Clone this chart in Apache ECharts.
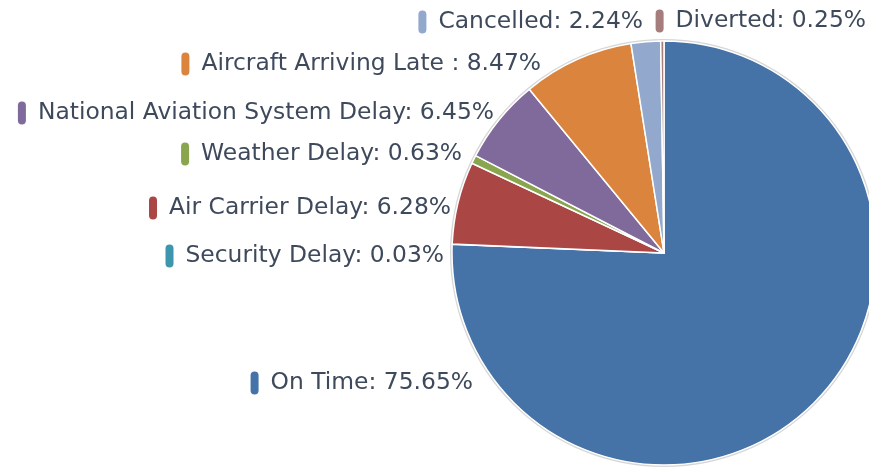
<!DOCTYPE html>
<html>
<head>
<meta charset="utf-8">
<script src="https://cdn.jsdelivr.net/npm/echarts@6/dist/echarts.min.js"></script>
<style>
  html, body { margin: 0; padding: 0; background: #ffffff; }
  #chart { width: 869px; height: 471px; }
</style>
</head>
<body>
<div id="chart"></div>
<script>
// Flight outcome shares (percent of all flights)
const categories = [
  'On Time',
  'Security Delay',
  'Air Carrier Delay',
  'Weather Delay',
  'National Aviation System Delay',
  'Aircraft Arriving Late ',
  'Cancelled',
  'Diverted'
];
const shares = [75.65, 0.03, 6.28, 0.63, 6.45, 8.47, 2.24, 0.25];
const colors = ['#4572A7', '#3D96AE', '#AA4643', '#89A54E', '#80699B', '#DB843D', '#92A8CD', '#A47D7C'];

// Where each label sits: right edge x, vertical middle y
const labelAnchors = [
  [473, 383], [444, 256], [451, 208], [462, 154],
  [494, 113], [541, 64], [643, 22], [866, 21]
];

const FONT = '"DejaVu Sans", Verdana, sans-serif';
const TEXT_COLOR = '#3e4a5c';
const CENTER = [664, 253];

const rich = { t: { fontFamily: FONT, fontSize: 23.4, color: TEXT_COLOR }, g: { width: 12 } };
colors.forEach((c, i) => {
  rich['m' + i] = { backgroundColor: c, width: 8, height: 23, borderRadius: 4 };
});

const chart = echarts.init(document.getElementById('chart'), null, { renderer: 'canvas' });

chart.setOption({
  animation: false,
  backgroundColor: '#ffffff',
  series: [
    {
      // thin grey rim around the pie
      type: 'pie',
      silent: true,
      center: CENTER,
      radius: 214,
      z: 1,
      label: { show: false },
      labelLine: { show: false },
      data: [{ value: 1, itemStyle: { color: '#d6d6d6' } }]
    },
    {
      type: 'pie',
      center: CENTER,
      radius: 212,
      startAngle: 90,
      clockwise: true,
      z: 2,
      avoidLabelOverlap: false,
      itemStyle: { borderColor: '#ffffff', borderWidth: 1.5 },
      labelLine: { show: false },
      label: {
        show: true,
        position: 'outside',
        formatter: p => `{m${p.dataIndex}|}{g|}{t|${p.name}: ${shares[p.dataIndex].toFixed(2)}%}`,
        rich: rich
      },
      labelLayout: p => ({
        x: labelAnchors[p.dataIndex][0],
        y: labelAnchors[p.dataIndex][1],
        align: 'right',
        verticalAlign: 'middle'
      }),
      data: categories.map((name, i) => ({
        name: name,
        value: shares[i],
        itemStyle: { color: colors[i] }
      }))
    }
  ]
});
</script>
</body>
</html>
